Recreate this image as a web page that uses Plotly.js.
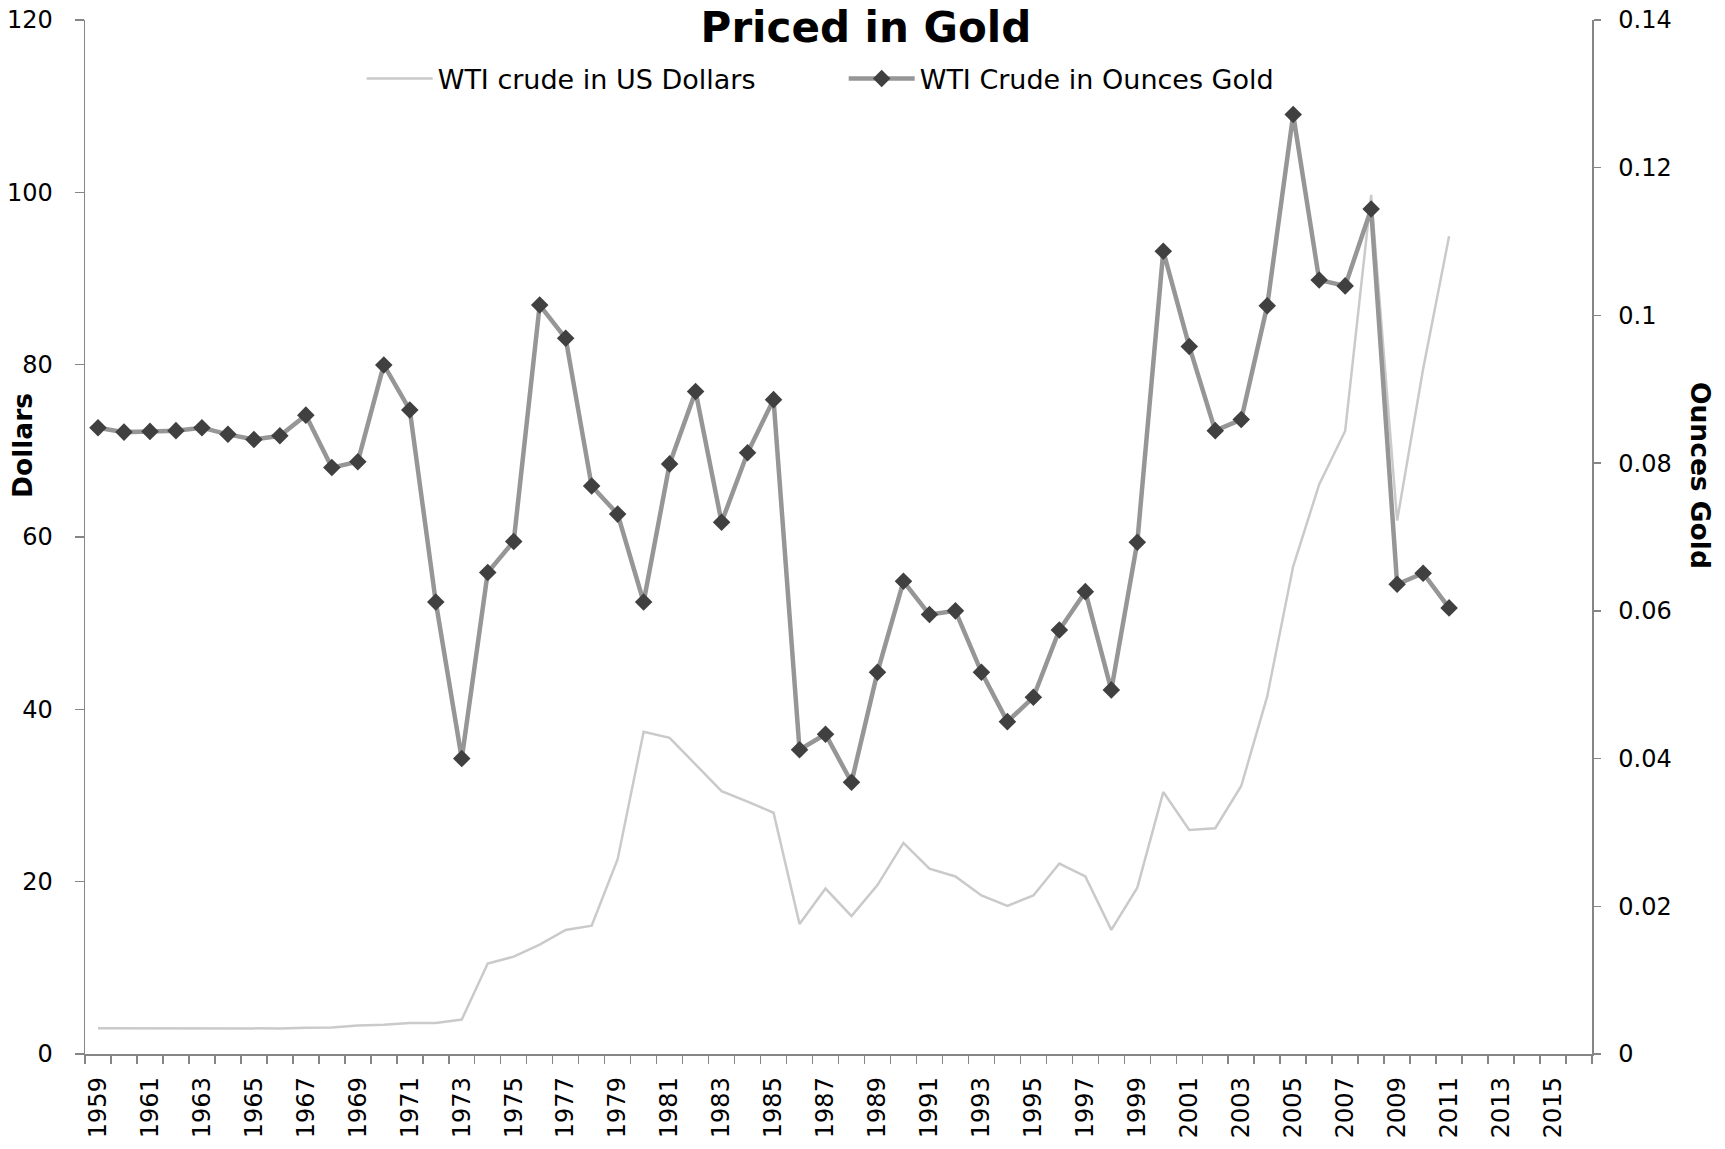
<!DOCTYPE html>
<html>
<head>
<meta charset="utf-8">
<script src="https://cdn.plot.ly/plotly-3.0.1.min.js"></script>
<style>
html,body{margin:0;padding:0;background:#ffffff;}
#chart{width:1725px;height:1149px;}
</style>
</head>
<body>
<div id="chart"></div>
<script>
// Years with data (1959-2011); axis spans to 2016
const years = [1959,1960,1961,1962,1963,1964,1965,1966,1967,1968,1969,1970,1971,1972,1973,1974,1975,1976,1977,1978,1979,1980,1981,1982,1983,1984,1985,1986,1987,1988,1989,1990,1991,1992,1993,1994,1995,1996,1997,1998,1999,2000,2001,2002,2003,2004,2005,2006,2007,2008,2009,2010,2011];

// WTI crude in US Dollars (left axis)
const wtiDollars = [3.0,3.0,3.0,3.0,3.0,2.98,2.92,2.97,3.05,3.07,3.3,3.4,3.6,3.6,4.0,10.5,11.3,12.7,14.4,14.9,22.6,37.4,36.7,33.6,30.5,29.3,28.0,15.1,19.2,16.0,19.6,24.5,21.5,20.6,18.4,17.2,18.4,22.1,20.6,14.4,19.3,30.4,26.0,26.2,31.1,41.5,56.6,66.1,72.3,99.7,61.9,79.5,94.9];

// WTI crude in ounces of gold (right axis)
const wtiGold = [0.0848,0.0842,0.0843,0.0844,0.0848,0.0839,0.0832,0.0837,0.0865,0.0794,0.0802,0.0933,0.0872,0.0612,0.0400,0.0652,0.0694,0.1014,0.0969,0.0769,0.0731,0.0612,0.0799,0.0897,0.0720,0.0814,0.0886,0.0412,0.0433,0.0368,0.0517,0.0640,0.0595,0.0600,0.0517,0.0450,0.0483,0.0574,0.0626,0.0493,0.0693,0.1087,0.0958,0.0844,0.0859,0.1013,0.1272,0.1048,0.1040,0.1144,0.0636,0.0651,0.0604];

const rightTickVals = [0,0.02,0.04,0.06,0.08,0.1,0.12,0.14];
const rightTickText = ["0","0.02","0.04","0.06","0.08","0.1","0.12","0.14"];

const seriesNames = ["WTI crude in US Dollars","WTI Crude in Ounces Gold"];

const axisGray = '#868686';
const FONT = 'DejaVu Sans, Verdana, sans-serif';

const traces = [
  {
    x: years, y: wtiDollars, name: seriesNames[0],
    type: 'scatter', mode: 'lines',
    line: {color: '#cacaca', width: 2.5},
    yaxis: 'y', hoverinfo: 'x+y'
  },
  {
    x: years, y: wtiGold, name: seriesNames[1],
    type: 'scatter', mode: 'lines+markers',
    line: {color: '#969696', width: 4.5},
    marker: {symbol: 'diamond', size: 13.5, color: '#404040', line: {width: 0}},
    yaxis: 'y2', hoverinfo: 'x+y'
  }
];

const layout = {
  width: 1725, height: 1149,
  paper_bgcolor: '#ffffff', plot_bgcolor: '#ffffff',
  font: {family: FONT, color: '#000000'},
  margin: {l: 85, r: 133, t: 20, b: 95, pad: 0},
  showlegend: true,
  title: {
    text: '<b>Priced in Gold</b>',
    font: {family: FONT, size: 42, color: '#000000'},
    x: 0.502, xref: 'container', xanchor: 'center',
    y: 0.9760, yref: 'container', yanchor: 'middle'
  },
  legend: {
    orientation: 'h',
    x: 0.1836, xanchor: 'left',
    y: 0.943, yanchor: 'middle',
    font: {family: FONT, size: 27, color: '#000000'},
    bgcolor: 'rgba(0,0,0,0)',
    itemwidth: 66,
    entrywidth: 401, entrywidthmode: 'pixels'
  },
  xaxis: {
    type: 'linear',
    range: [1958.5, 2016.5],
    tickmode: 'linear', tick0: 1959, dtick: 2,
    ticks: '',
    tickangle: -90,
    tickfont: {family: FONT, size: 24, color: '#000000'},
    ticklabelstandoff: 12,
    showline: true, linecolor: axisGray, linewidth: 1.5,
    showgrid: false, zeroline: false,
    automargin: false,
    minor: {ticks: 'outside', tick0: 1958.5, dtick: 1, ticklen: 8, tickcolor: axisGray, tickwidth: 1.5, showgrid: false}
  },
  yaxis: {
    range: [0, 120],
    tickmode: 'linear', tick0: 0, dtick: 20,
    ticks: 'outside', ticklen: 9, tickcolor: axisGray, tickwidth: 1.5,
    tickfont: {family: FONT, size: 24, color: '#000000'},
    ticklabelstandoff: 17,
    showline: true, linecolor: axisGray, linewidth: 1.5,
    showgrid: false, zeroline: false,
    automargin: false
  },
  yaxis2: {
    overlaying: 'y', side: 'right',
    range: [0, 0.14],
    tickmode: 'array', tickvals: rightTickVals, ticktext: rightTickText,
    ticks: 'outside', ticklen: 7, tickcolor: axisGray, tickwidth: 1.5,
    tickfont: {family: FONT, size: 24, color: '#000000'},
    ticklabelstandoff: 13,
    showline: true, linecolor: axisGray, linewidth: 1.5,
    showgrid: false, zeroline: false,
    automargin: false
  },
  annotations: [
    {
      text: '<b>Dollars</b>', xref: 'paper', yref: 'paper',
      x: -0.0418, y: 0.588, xanchor: 'center', yanchor: 'middle',
      textangle: -90, showarrow: false,
      font: {family: FONT, size: 26.5, color: '#000000'}
    },
    {
      text: '<b>Ounces Gold</b>', xref: 'paper', yref: 'paper',
      x: 1.0717, y: 0.560, xanchor: 'center', yanchor: 'middle',
      textangle: 90, showarrow: false,
      font: {family: FONT, size: 26.5, color: '#000000'}
    }
  ]
};

Plotly.newPlot('chart', traces, layout, {displayModeBar: false, staticPlot: true});
</script>
</body>
</html>
